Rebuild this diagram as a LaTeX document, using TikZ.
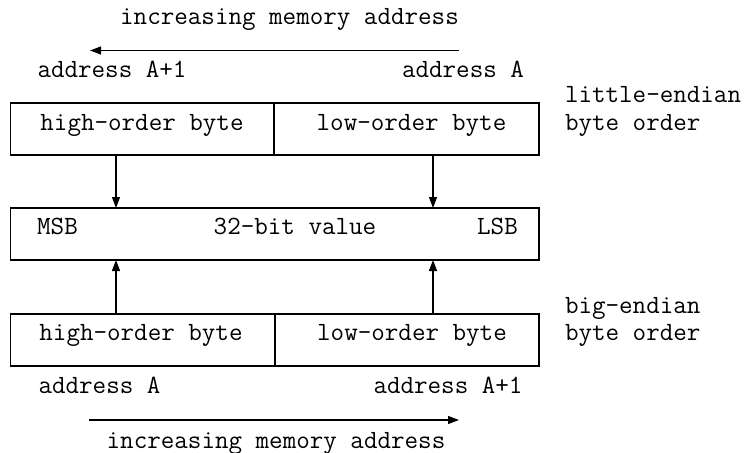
\documentclass[tikz,border=0pt]{standalone}
\usepackage{fontspec}
\usetikzlibrary{arrows.meta}
\begin{document}
\begin{tikzpicture}[x=1pt,y=-1pt,
  every node/.style={inner sep=0pt, outer sep=0pt},
  cell/.style={draw, line width=1.3pt, minimum height=52pt},
  txt/.style={font=\ttfamily\fontsize{26.3}{30}\selectfont, anchor=base},
  txtl/.style={font=\ttfamily\fontsize{26.3}{30}\selectfont, anchor=base west},
  arr/.style={line width=1.3pt, -{Triangle[length=11pt,width=8pt]}}]
\path[use as bounding box] (0,0) rectangle (748,453);

% little-endian storage (top row)
\node[cell, minimum width=263.3pt, anchor=north west] (lhi) at (10.7,103) {};
\node[cell, minimum width=265pt, anchor=north west] (llo) at (274,103) {};
% 32-bit value
\node[cell, minimum width=528.3pt, anchor=north west] (val) at (10.7,208) {};
% big-endian storage (bottom row)
\node[cell, minimum width=264.3pt, anchor=north west] (bhi) at (10.7,314) {};
\node[cell, minimum width=264pt, anchor=north west] (blo) at (275,314) {};

% cell texts
\node[txt] (lhit) at (142,130) {high-order byte};
\node[txt] (llot) at (411.5,130) {low-order byte};
\node[txt] (msb) at (57.5,234) {MSB};
\node[txt] (valt) at (295,234) {32-bit value};
\node[txt] (lsb) at (497.5,234) {LSB};
\node[txt] (bhit) at (141,340) {high-order byte};
\node[txt] (blot) at (412,340) {low-order byte};

% addresses
\node[txt] (la1) at (112,77) {address A+1};
\node[txt] (la0) at (463,77) {address A};
\node[txt] (ba0) at (99.5,393) {address A};
\node[txt] (ba1) at (448,393) {address A+1};

% direction of increasing address
\node[txt] (ttop) at (289.5,24) {increasing memory address};
\node[txt] (tbot) at (276,448) {increasing memory address};
\coordinate (ts) at (459,50.5);
\coordinate (te) at (90,50.5);
\coordinate (bs) at (89,420);
\coordinate (be) at (459,420);
\draw[arr] (ts) -- (te);
\draw[arr] (bs) -- (be);

% side labels
\node[txtl] (le1) at (565,102) {little-endian};
\node[txtl] (le2) at (565,130) {byte order};
\node[txtl] (be1) at (565,313) {big-endian};
\node[txtl] (be2) at (565,340) {byte order};

% byte-to-value connectors
\coordinate (c1) at (116,0);
\coordinate (c2) at (433,0);
\draw[arr] (lhi.south -| c1) -- (val.north -| c1);
\draw[arr] (llo.south -| c2) -- (val.north -| c2);
\draw[arr] (bhi.north -| c1) -- (val.south -| c1);
\draw[arr] (blo.north -| c2) -- (val.south -| c2);
\end{tikzpicture}
\end{document}
